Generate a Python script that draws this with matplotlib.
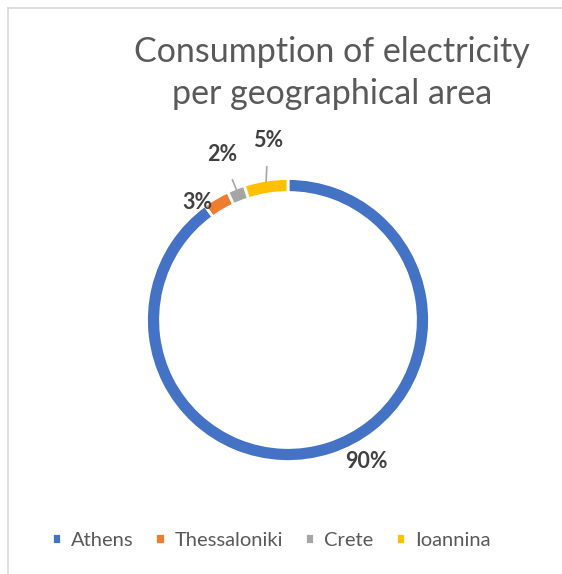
"""Doughnut chart: electricity consumption per geographical area."""

import matplotlib
matplotlib.use("Agg")
import matplotlib.pyplot as plt
import numpy as np
from matplotlib.lines import Line2D

plt.rcParams["font.family"] = ["Lato", "DejaVu Sans"]

areas = ["Athens", "Thessaloniki", "Crete", "Ioannina"]
shares = [90, 3, 2, 5]
labels = ["90%", "3%", "2%", "5%"]
colors = ["#4472C4", "#ED7D31", "#A5A5A5", "#FFC000"]

W, H = 562, 574
fig = plt.figure(figsize=(W / 100, H / 100), dpi=100)
ax = fig.add_axes([0, 0, 1, 1])

cx, cy = 288, H - 320
radius = 141.5
wedges, _ = ax.pie(shares, colors=colors, startangle=90, counterclock=False,
                   center=(cx, cy), radius=radius,
                   wedgeprops=dict(width=14, edgecolor="white", linewidth=2))
ax.set_xlim(0, W)
ax.set_ylim(0, H)
ax.set_aspect("equal")
ax.axis("off")

# label offsets (in ring-radius units) relative to centre, leader for small ones
label_pos = {"90%": (0.557, -1.01), "3%": (-0.65, 0.836),
             "2%": (-0.47, 1.18), "5%": (-0.143, 1.28)}
leader = {"2%", "5%"}
for w, lab in zip(wedges, labels):
    mid = np.deg2rad((w.theta1 + w.theta2) / 2)
    edge = (cx + 140 * np.cos(mid), cy + 140 * np.sin(mid))
    dx, dy = label_pos[lab]
    pos = (cx + dx * 140, cy + dy * 140)
    if lab in leader:
        ax.annotate(lab, xy=edge, xytext=pos, ha="center", va="center",
                    fontsize=15.5, fontweight="bold", color="#404040",
                    arrowprops=dict(arrowstyle="-", color="#A6A6A6", lw=1.2,
                                    shrinkA=9, shrinkB=0))
    else:
        ax.text(*pos, lab, ha="center", va="center", fontsize=15.5,
                fontweight="bold", color="#404040")

fig.text(332 / W, 1 - 73 / H, "Consumption of electricity\nper geographical area",
         ha="center", va="center", fontsize=24.5, color="#595959", linespacing=1.42)

fig.legend(wedges, areas, loc="center", bbox_to_anchor=(271 / W, 1 - 540 / H),
           ncol=4, frameon=False, fontsize=14.5, labelcolor="#595959",
           handlelength=0.45, handleheight=0.45, handletextpad=0.5,
           columnspacing=1.1)

# chart-area border (top and left edges visible)
fig.add_artist(Line2D([8 / W, 8 / W], [0, 1 - 8 / H], color="#D9D9D9", lw=1.2))
fig.add_artist(Line2D([8 / W, 1], [1 - 8 / H, 1 - 8 / H], color="#D9D9D9", lw=1.2))

fig.savefig("out.png", dpi=100, facecolor="white")
